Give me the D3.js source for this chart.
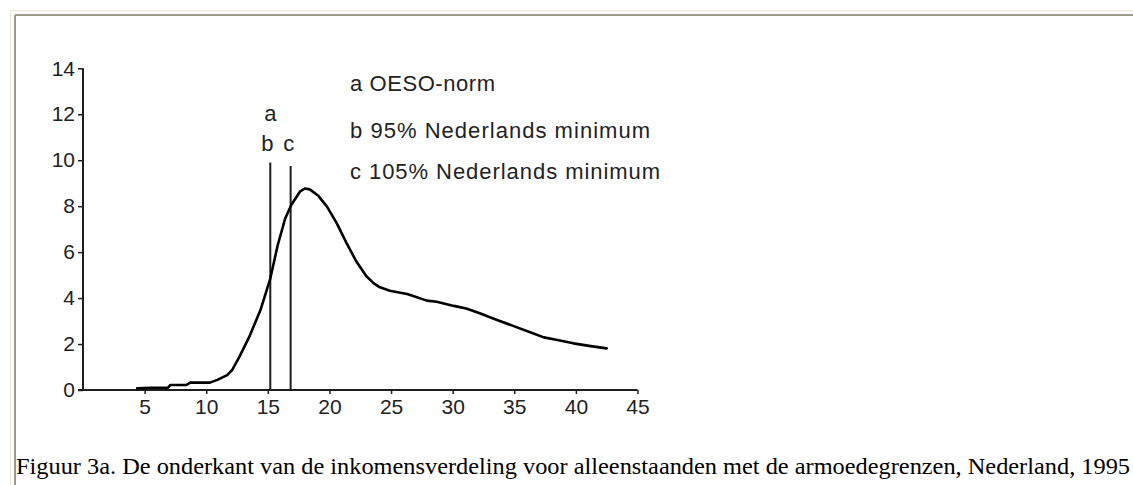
<!DOCTYPE html>
<html>
<head>
<meta charset="utf-8">
<script src="https://cdn.jsdelivr.net/npm/d3@7"></script>
<style>
  html, body { margin: 0; padding: 0; background: #ffffff; }
  svg { display: block; }
</style>
</head>
<body>
<svg id="chart" width="1133" height="485"></svg>
<script>
// ---- data ----
const incomeX = [4.4, 5.5, 6.9, 7.1, 8.4, 8.7, 10.3, 10.9, 11.7, 12.1, 12.7, 13.5, 14.4, 15.2, 15.8, 16.4, 16.9, 17.6, 18.0, 18.4, 19.1, 19.8, 20.6, 21.4, 22.2, 23.0, 23.6, 24.1, 24.9, 26.3, 26.8, 27.9, 28.7, 30.1, 31.1, 32.2, 33.6, 34.9, 36.5, 37.4, 38.5, 39.8, 41.2, 42.5];
const shareY  = [0.07, 0.1, 0.1, 0.22, 0.22, 0.32, 0.32, 0.44, 0.65, 0.87, 1.45, 2.32, 3.48, 4.85, 6.3, 7.45, 8.05, 8.63, 8.77, 8.73, 8.45, 7.98, 7.25, 6.38, 5.58, 4.95, 4.64, 4.47, 4.32, 4.18, 4.09, 3.89, 3.84, 3.66, 3.55, 3.34, 3.05, 2.79, 2.47, 2.29, 2.18, 2.03, 1.91, 1.81];
const xTicks = [5, 10, 15, 20, 25, 30, 35, 40, 45];
const yTicks = [0, 2, 4, 6, 8, 10, 12, 14];
const limitNames = ["b", "c"];
const limitX = [15.2, 16.85];
const limitTop = [9.9, 9.75];
const legendLines = ["a OESO-norm", "b 95% Nederlands minimum", "c 105% Nederlands minimum"];
const caption = "Figuur 3a. De onderkant van de inkomensverdeling voor alleenstaanden met de armoedegrenzen, Nederland, 1995";

// ---- drawing ----
const svg = d3.select("#chart");
const ink = "#1e1e1e";
const sans = "'Liberation Sans', Arial, sans-serif";

// frame (sunken window-like border)
svg.append("line").attr("x1", 10.5).attr("y1", 10.5).attr("x2", 1133).attr("y2", 10.5).attr("stroke", "#ece9d8").attr("stroke-width", 1);
svg.append("line").attr("x1", 10.5).attr("y1", 10.5).attr("x2", 10.5).attr("y2", 485).attr("stroke", "#ece9d8").attr("stroke-width", 1);
svg.append("line").attr("x1", 15).attr("y1", 15).attr("x2", 1133).attr("y2", 15).attr("stroke", "#9d9b90").attr("stroke-width", 2);
svg.append("line").attr("x1", 15).attr("y1", 15).attr("x2", 15).attr("y2", 485).attr("stroke", "#9d9b90").attr("stroke-width", 2);

const x = d3.scaleLinear().domain([0, 45]).range([83, 637.5]);
const y = d3.scaleLinear().domain([0, 14]).range([390, 68.3]);

// y axis
const yAxis = svg.append("g").attr("transform", `translate(${x(0)},0)`)
  .call(d3.axisLeft(y).tickValues(yTicks).tickSize(5).tickPadding(3).tickFormat(d3.format("d")));
yAxis.select(".domain").attr("stroke", ink).attr("stroke-width", 2).attr("d", `M0,${y(14)}V${y(0)}`);
yAxis.selectAll(".tick line").attr("stroke", ink).attr("stroke-width", 1.5);
yAxis.selectAll(".tick text").attr("fill", "#222").style("font-family", sans).style("font-size", "21px");

// x axis
const xAxis = svg.append("g").attr("transform", `translate(0,${y(0)})`)
  .call(d3.axisBottom(x).tickValues(xTicks).tickSize(4).tickPadding(5).tickFormat(d3.format("d")));
xAxis.select(".domain").attr("stroke", ink).attr("stroke-width", 2).attr("d", `M${x(0) - 5},0H${x(45)}`);
xAxis.selectAll(".tick line").attr("stroke", ink).attr("stroke-width", 1.5);
xAxis.selectAll(".tick text").attr("fill", "#222").style("font-family", sans).style("font-size", "21px");

// poverty limit lines
svg.selectAll("line.limit").data(limitX).enter().append("line")
  .attr("class", "limit")
  .attr("x1", d => x(d)).attr("x2", d => x(d))
  .attr("y1", (d, i) => y(limitTop[i])).attr("y2", y(0))
  .attr("stroke", ink).attr("stroke-width", 2);

// labels above the lines
svg.append("text").attr("x", x(limitX[0])).attr("y", 121).attr("text-anchor", "middle")
  .attr("fill", "#222").style("font-family", sans).style("font-size", "22px").text("a");
svg.selectAll("text.limlab").data(limitNames).enter().append("text")
  .attr("class", "limlab")
  .attr("x", (d, i) => x(limitX[i]) - (i === 0 ? 3 : 2)).attr("y", 151).attr("text-anchor", "middle")
  .attr("fill", "#222").style("font-family", sans).style("font-size", "22px").text(d => d);

// income distribution curve
const line = d3.line().x(d => x(d[0])).y(d => y(d[1])).curve(d3.curveLinear);
svg.append("path").datum(d3.zip(incomeX, shareY))
  .attr("d", line).attr("fill", "none").attr("stroke", "#000")
  .attr("stroke-width", 2.6).attr("stroke-linejoin", "round").attr("stroke-linecap", "round");

// legend text
const legendY = [91, 138, 179];
const legendW = [145, 300, 310];
svg.selectAll("text.leg").data(legendLines).enter().append("text")
  .attr("class", "leg")
  .attr("x", 350).attr("y", (d, i) => legendY[i])
  .attr("textLength", (d, i) => legendW[i]).attr("lengthAdjust", "spacing")
  .attr("fill", "#222").style("font-family", sans).style("font-size", "22px")
  .text(d => d);

// caption
svg.append("text").attr("x", 16).attr("y", 474)
  .attr("textLength", 1114).attr("lengthAdjust", "spacingAndGlyphs")
  .attr("fill", "#000").style("font-family", "'Liberation Serif', 'Times New Roman', serif").style("font-size", "23px")
  .text(caption);
</script>
</body>
</html>
